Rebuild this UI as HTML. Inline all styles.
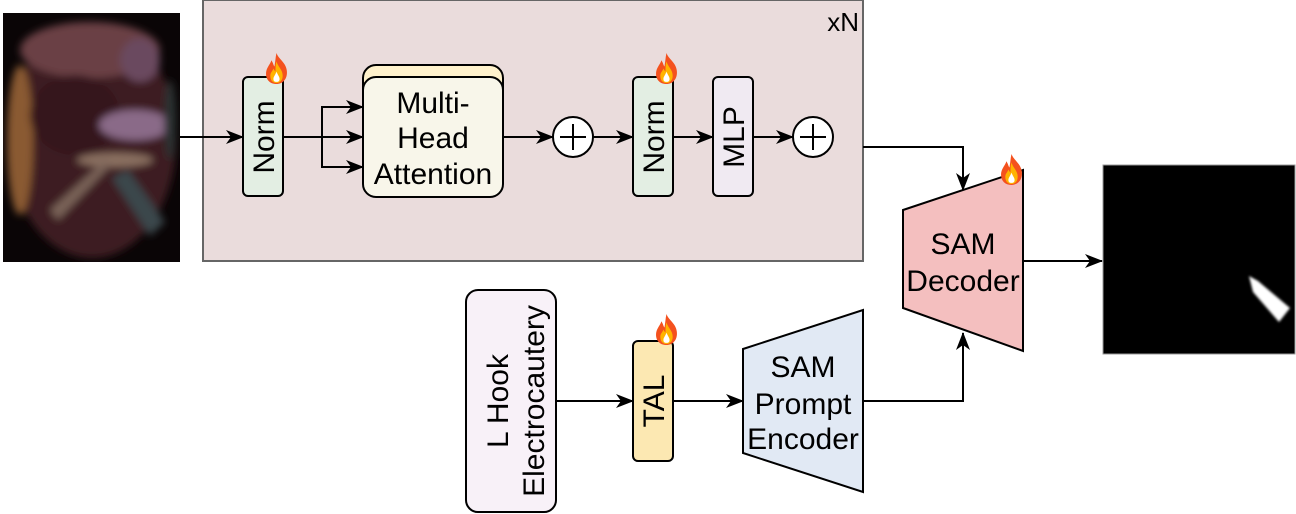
<!DOCTYPE html>
<html><head><meta charset="utf-8"><style>
html,body{margin:0;padding:0;background:#fff;}
svg{display:block;}
text{font-family:"Liberation Sans",Arial,sans-serif;fill:#000;font-size:30px;}
</style></head><body>
<svg width="1296" height="514" viewBox="0 0 1296 514" xmlns="http://www.w3.org/2000/svg">
<defs>
<marker id="ah" markerWidth="20" markerHeight="16" refX="17" refY="7" orient="auto" markerUnits="userSpaceOnUse" viewBox="0 0 20 16">
<path d="M0,0 L18,7 L0,14 L5,7 Z" fill="#000"/>
</marker>
<filter id="bl" x="-5%" y="-5%" width="110%" height="110%"><feGaussianBlur stdDeviation="4"/></filter>
<filter id="bl2"><feGaussianBlur stdDeviation="1.2"/></filter>
<symbol id="fire" viewBox="0 0 26 32">
<path d="M13,1 C15,7 22,10 23,18 C24,26 19,31 13,31 C6,31 2,26 3,19 C4,14 7,12 8,8 C10,11 10,13 11,14 C12,9 12,5 13,1 Z" fill="#f4511e"/>
<path d="M13,9 C14,14 19,17 19,23 C19,28 16,30 13,30 C9,30 7,27 7,23 C7,20 9,19 10,16 C11,18 12,19 12,19 C12,16 12,12 13,9 Z" fill="#ffb300"/>
<path d="M13,19 C14,22 16,24 16,26 C16,28 15,29 13,29 C11,29 10,28 10,26 C10,24 12,22 13,19 Z" fill="#fff"/>
</symbol>
<clipPath id="ic"><rect x="3" y="13" width="177" height="249"/></clipPath>
</defs>

<g clip-path="url(#ic)">
<rect x="3" y="13" width="177" height="249" fill="#0a0506"/>
<g filter="url(#bl)">
<ellipse cx="92" cy="140" rx="84" ry="118" fill="#3e1c22"/>
<ellipse cx="90" cy="50" rx="70" ry="28" fill="#6a4044"/>
<ellipse cx="20" cy="140" rx="13" ry="75" fill="#8a5a32"/>
<ellipse cx="140" cy="60" rx="20" ry="22" fill="#6a4a5e"/>
<ellipse cx="75" cy="115" rx="45" ry="40" fill="#34161a"/>
<ellipse cx="135" cy="125" rx="36" ry="15" fill="#8a6a88"/>
<ellipse cx="115" cy="160" rx="38" ry="7" fill="#8a7060"/>
<path d="M50,210 L105,160 L110,166 L58,220 Z" fill="#7a6458"/>
<path d="M112,178 L128,170 L165,222 L150,236 Z" fill="#3a464c"/>
<ellipse cx="170" cy="120" rx="6" ry="40" fill="#2a3230"/>
</g>
</g>

<rect x="203" y="0" width="660" height="261" fill="#eadcdc" stroke="#666" stroke-width="2"/>
<text x="859" y="31" text-anchor="end" style="font-size:26px">xN</text>

<line x1="180" y1="137" x2="243" y2="137" stroke="#000" stroke-width="2" marker-end="url(#ah)"/>
<polyline points="283,137 322,137" fill="none" stroke="#000" stroke-width="2"/>
<line x1="322" y1="106" x2="322" y2="168" stroke="#000" stroke-width="2"/>
<line x1="322" y1="107" x2="363" y2="107" stroke="#000" stroke-width="2" marker-end="url(#ah)"/>
<line x1="322" y1="137" x2="363" y2="137" stroke="#000" stroke-width="2" marker-end="url(#ah)"/>
<line x1="322" y1="167" x2="363" y2="167" stroke="#000" stroke-width="2" marker-end="url(#ah)"/>
<line x1="503" y1="137" x2="553" y2="137" stroke="#000" stroke-width="2" marker-end="url(#ah)"/>
<line x1="593" y1="137" x2="633" y2="137" stroke="#000" stroke-width="2" marker-end="url(#ah)"/>
<line x1="673" y1="137" x2="713" y2="137" stroke="#000" stroke-width="2" marker-end="url(#ah)"/>
<line x1="753" y1="137" x2="793" y2="137" stroke="#000" stroke-width="2" marker-end="url(#ah)"/>

<rect x="243" y="77" width="40" height="119" rx="5" fill="#e3eee3" stroke="#000" stroke-width="2"/>
<text transform="translate(274,137) rotate(-90)" text-anchor="middle">Norm</text>
<use href="#fire" x="263" y="52" width="27" height="33"/>

<rect x="363" y="65" width="140" height="120" rx="13" fill="#fff2cc" stroke="#000" stroke-width="2"/>
<rect x="363" y="77" width="140" height="120" rx="13" fill="#f8f6ea" stroke="#000" stroke-width="2"/>
<text x="433" y="113" text-anchor="middle">Multi-</text>
<text x="433" y="148" text-anchor="middle">Head</text>
<text x="433" y="184" text-anchor="middle">Attention</text>

<circle cx="573" cy="137" r="20" fill="#fff" stroke="#000" stroke-width="2"/>
<path d="M560,137 H586 M573,124 V150" stroke="#000" stroke-width="2"/>
<circle cx="813" cy="137" r="20" fill="#fff" stroke="#000" stroke-width="2"/>
<path d="M800,137 H826 M813,124 V150" stroke="#000" stroke-width="2"/>

<rect x="633" y="77" width="40" height="119" rx="5" fill="#e3eee3" stroke="#000" stroke-width="2"/>
<text transform="translate(664,137) rotate(-90)" text-anchor="middle">Norm</text>
<use href="#fire" x="653" y="52" width="27" height="33"/>

<rect x="713" y="77" width="40" height="119" rx="5" fill="#f0eaf2" stroke="#000" stroke-width="2"/>
<text transform="translate(744,137) rotate(-90)" text-anchor="middle">MLP</text>

<polyline points="863,147 963,147 963,190" fill="none" stroke="#000" stroke-width="2" marker-end="url(#ah)"/>

<polygon points="903,210 1023,170 1023,351 903,308" fill="#f4bfbf" stroke="#000" stroke-width="2"/>
<text x="963" y="254" text-anchor="middle">SAM</text>
<text x="963" y="291" text-anchor="middle">Decoder</text>
<use href="#fire" x="998" y="153" width="27" height="33"/>

<line x1="1023" y1="261" x2="1102" y2="261" stroke="#000" stroke-width="2" marker-end="url(#ah)"/>

<rect x="1103" y="165" width="192" height="189" fill="#000" stroke="#999" stroke-width="1"/>
<polygon points="1249,276 1258,281 1290,308 1279,322 1253,292" fill="#fff" filter="url(#bl2)"/>

<rect x="466" y="290" width="90" height="222" rx="12" fill="#f8f1f8" stroke="#000" stroke-width="2"/>
<text transform="translate(508,401) rotate(-90)" text-anchor="middle">L Hook</text>
<text transform="translate(544,401) rotate(-90)" text-anchor="middle">Electrocautery</text>

<line x1="556" y1="401" x2="633" y2="401" stroke="#000" stroke-width="2" marker-end="url(#ah)"/>
<rect x="633" y="341" width="40" height="120" rx="5" fill="#fce8b2" stroke="#000" stroke-width="2"/>
<text transform="translate(664,401) rotate(-90)" text-anchor="middle">TAL</text>
<use href="#fire" x="653" y="313" width="27" height="33"/>
<line x1="673" y1="401" x2="743" y2="401" stroke="#000" stroke-width="2" marker-end="url(#ah)"/>

<polygon points="743,349 863,310 863,492 743,453" fill="#e1e9f4" stroke="#000" stroke-width="2"/>
<text x="803" y="377" text-anchor="middle">SAM</text>
<text x="803" y="414" text-anchor="middle">Prompt</text>
<text x="803" y="449" text-anchor="middle">Encoder</text>

<polyline points="863,401 963,401 963,333" fill="none" stroke="#000" stroke-width="2" marker-end="url(#ah)"/>
</svg>
</body></html>
